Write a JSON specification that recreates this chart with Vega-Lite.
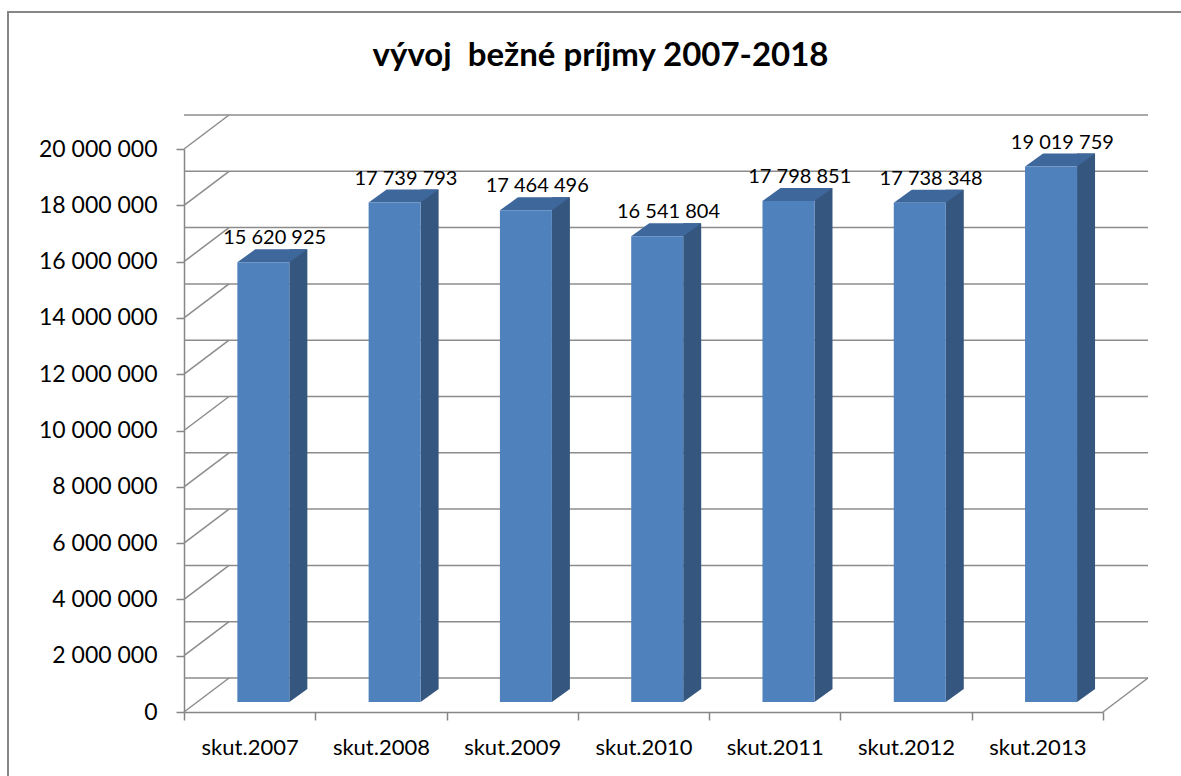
{
  "$schema": "https://vega.github.io/schema/vega-lite/v6.json",
  "width": 919,
  "height": 563,
  "autosize": {"type": "none"},
  "padding": {"left": 184, "top": 149, "right": 78, "bottom": 64},
  "background": "white",
  "config": {
    "view": {"stroke": null},
    "font": "Lato",
    "locale": {"number": {"decimal": ",", "thousands": " ", "grouping": [3], "currency": ["", ""]}},
    "axis": {
      "domainColor": "#868686", "domainWidth": 1.5,
      "tickColor": "#868686", "tickWidth": 1.5, "tickSize": 8,
      "labelFont": "Lato", "labelColor": "#000000", "grid": false, "title": null
    },
    "axisX": {"tickBand": "extent", "labelFontSize": 22, "labelAngle": 0, "labelBaseline": "alphabetic", "labelPadding": 34},
    "axisY": {"labelFontSize": 23, "labelPadding": 19, "labelBaseline": "middle", "labelFlush": false}
  },
  "title": {
    "text": "vývoj\u00a0 bežné príjmy 2007-2018",
    "font": "Lato",
    "fontSize": 33,
    "fontWeight": "bold",
    "color": "#000000",
    "anchor": "middle",
    "frame": "group",
    "baseline": "alphabetic",
    "dx": -43,
    "dy": 103,
    "offset": 15
  },
  "datasets": {
    "bars": [
      {"k": "skut.2007", "v": 15620925},
      {"k": "skut.2008", "v": 17739793},
      {"k": "skut.2009", "v": 17464496},
      {"k": "skut.2010", "v": 16541804},
      {"k": "skut.2011", "v": 17798851},
      {"k": "skut.2012", "v": 17738348},
      {"k": "skut.2013", "v": 19019759}
    ],
    "grid": [
      {"g": 0}, {"g": 2000000}, {"g": 4000000}, {"g": 6000000}, {"g": 8000000},
      {"g": 10000000}, {"g": 12000000}, {"g": 14000000}, {"g": 16000000},
      {"g": 18000000}, {"g": 20000000}
    ]
  },
  "data": {"name": "bars"},
  "layer": [
    {
      "transform": [{"filter": "datum.k == 'skut.2007'"}],
      "mark": {"type": "rule", "color": "#868686", "strokeWidth": 2, "xOffset": -176, "yOffset": -137, "y2Offset": 80},
      "encoding": {
        "x": {"datum": "skut.2007", "type": "nominal", "bandPosition": 0, "title": null},
        "y": {"datum": 20000000, "type": "quantitative", "title": null},
        "y2": {"datum": 0}
      }
    },
    {
      "transform": [{"filter": "datum.k == 'skut.2007'"}],
      "mark": {"type": "rule", "color": "#868686", "strokeWidth": 2, "yOffset": -137, "y2Offset": -137, "xOffset": -177, "x2Offset": 200},
      "encoding": {
        "x": {"datum": "skut.2007", "type": "nominal", "bandPosition": 0, "title": null},
        "x2": {"datum": "skut.2013"},
        "y": {"datum": 20000000, "type": "quantitative", "title": null},
        "y2": {"datum": 20000000}
      }
    },
    {
      "data": {"name": "grid"},
      "mark": {"type": "rule", "color": "#8c8c8c", "strokeWidth": 1.5, "xOffset": 45, "x2Offset": 45, "yOffset": -34},
      "encoding": {
        "y": {"field": "g", "type": "quantitative", "title": null, "scale": {"domain": [0, 20000000], "nice": false}}
      }
    },
    {
      "data": {"name": "grid"},
      "mark": {"type": "rule", "color": "#8c8c8c", "strokeWidth": 1.5, "y2Offset": -34, "x2Offset": -20.6},
      "encoding": {
        "x": {"datum": "skut.2007", "type": "nominal", "bandPosition": 0, "title": null},
        "x2": {"datum": "skut.2007"},
        "y": {"field": "g", "type": "quantitative", "title": null},
        "y2": {"field": "g"}
      }
    },
    {
      "transform": [{"filter": "datum.k == 'skut.2013'"}],
      "mark": {"type": "rule", "color": "#8c8c8c", "strokeWidth": 1.5, "y2Offset": -34, "x2Offset": 110.6},
      "encoding": {
        "x": {"datum": "skut.2013", "type": "nominal", "bandPosition": 1, "title": null},
        "x2": {"datum": "skut.2013"},
        "y": {"datum": 0, "type": "quantitative", "title": null},
        "y2": {"datum": 0}
      }
    },
    {
      "mark": {"type": "bar", "color": "#35577f", "width": 18, "xOffset": 48.7, "yOffset": -23, "y2Offset": -23},
      "encoding": {
        "x": {"field": "k", "type": "nominal", "title": null},
        "y": {"field": "v", "type": "quantitative", "title": null},
        "y2": {"datum": 0}
      }
    },
    {
      "mark": {"type": "point", "shape": "M0,0 L18,-13 L0,-13 Z", "size": 4, "filled": true, "opacity": 1, "color": "#35577f", "strokeWidth": 0, "xOffset": 39.7, "yOffset": -10},
      "encoding": {
        "x": {"field": "k", "type": "nominal", "title": null},
        "y": {"datum": 0, "type": "quantitative", "title": null}
      }
    },
    {
      "mark": {"type": "point", "shape": "M0,0 L18,-13 L70,-13 L52,0 Z", "size": 4, "filled": true, "opacity": 1, "color": "#3e679c", "strokeWidth": 0, "xOffset": -12.3, "yOffset": -10},
      "encoding": {
        "x": {"field": "k", "type": "nominal", "title": null},
        "y": {"field": "v", "type": "quantitative", "title": null}
      }
    },
    {
      "mark": {"type": "bar", "color": "#4f81bd", "width": 52, "xOffset": 13.7, "yOffset": -10, "y2Offset": -10},
      "encoding": {
        "x": {"field": "k", "type": "nominal", "sort": null, "title": null},
        "y": {
          "field": "v", "type": "quantitative", "title": null,
          "axis": {
            "values": [0, 2000000, 4000000, 6000000, 8000000, 10000000, 12000000, 14000000, 16000000, 18000000, 20000000],
            "format": ",d"
          }
        },
        "y2": {"datum": 0}
      }
    },
    {
      "mark": {"type": "text", "font": "Lato", "fontSize": 20, "color": "#000000", "baseline": "alphabetic", "align": "center", "xOffset": 25, "yOffset": -28},
      "encoding": {
        "x": {"field": "k", "type": "nominal", "title": null},
        "y": {"field": "v", "type": "quantitative", "title": null},
        "text": {"field": "v", "type": "quantitative", "format": ",d"}
      }
    }
  ]
}
